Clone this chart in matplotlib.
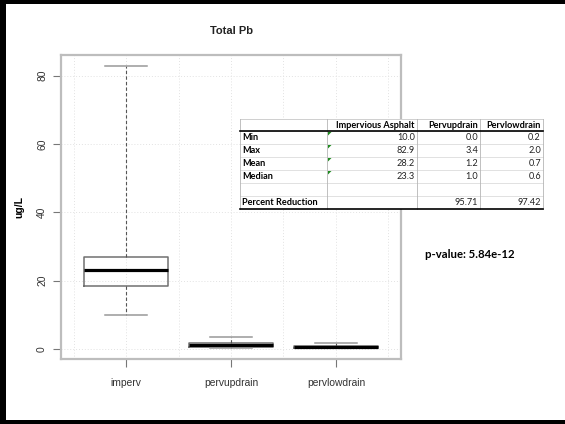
import matplotlib.pyplot as plt
from matplotlib.patches import Rectangle, Polygon

# box plot data
groups = ['imperv', 'pervupdrain', 'pervlowdrain']
whislo = [10.0, 0.4, 0.2]
q1 = [18.4, 0.6, 0.3]
med = [23.1, 1.1, 0.6]
q3 = [26.9, 1.9, 0.9]
whishi = [82.9, 3.4, 1.9]
yticks = [0, 20, 40, 60, 80]

# summary table
col_labels = ['', 'Impervious Asphalt', 'Pervupdrain', 'Pervlowdrain']
row_labels = ['Min', 'Max', 'Mean', 'Median', '', 'Percent Reduction']
imperv_vals = ['10.0', '82.9', '28.2', '23.3', '', '']
pervup_vals = ['0.0', '3.4', '1.2', '1.0', '', '95.71']
pervlow_vals = ['0.2', '2.0', '0.7', '0.6', '', '97.42']
p_text = 'p-value: 5.84e-12'

W, H = 565, 424
fig = plt.figure(figsize=(W / 100, H / 100), dpi=100)
fig.patch.set_facecolor('white')

ax = fig.add_axes([61 / W, 1 - 359 / H, (401 - 61) / W, (359 - 55) / H])
stats = []
for i, g in enumerate(groups):
    stats.append(dict(label=g, whislo=whislo[i], q1=q1[i], med=med[i],
                      q3=q3[i], whishi=whishi[i], fliers=[]))
ax.bxp(stats, positions=[1, 2, 3], widths=0.8, showfliers=False,
       boxprops=dict(color='#707070', linewidth=1.1),
       medianprops=dict(color='black', linewidth=2.3),
       whiskerprops=dict(color='#555555', linewidth=0.8, linestyle=(0, (3, 2))),
       capprops=dict(color='#999999', linewidth=1.1),
       capwidths=0.4)

ax.set_xlim(0.38, 3.62)
ax.set_ylim(-2.9, 86)
ax.set_yticks(yticks)
ax.set_yticklabels([str(v) for v in yticks], rotation=90, va='center')
ax.set_xticks([1, 2, 3])
ax.set_xticklabels(groups)
for x in [0.5, 1, 1.5, 2, 2.5, 3, 3.5]:
    ax.axvline(x, color='#e2e2e2', linewidth=0.7, linestyle=(0, (1, 2)), zorder=0)
for y in yticks:
    ax.axhline(y, color='#e2e2e2', linewidth=0.7, linestyle=(0, (1, 2)), zorder=0)
for s in ax.spines.values():
    s.set_color('#bdbdbd')
    s.set_linewidth(1.6)
ax.tick_params(colors='#777777', labelcolor='#333333', labelsize=7.4,
               length=6, width=0.8)
ax.tick_params(axis='x', pad=8)
ax.tick_params(axis='y', pad=4)
for t in ax.get_xticklabels() + ax.get_yticklabels():
    t.set_family('Liberation Sans')
ax.set_ylabel('ug/L', fontsize=7.5, fontweight='bold', family='Liberation Sans',
              labelpad=9)
fig.text(231 / W, 1 - 31 / H, 'Total Pb', ha='center', va='center',
         fontsize=8, fontweight='bold', family='Liberation Sans', color='#222222')

# overlay in pixel coordinates for table, p-value and border
ov = fig.add_axes([0, 0, 1, 1], zorder=5)
ov.set_xlim(0, W)
ov.set_ylim(H, 0)
ov.axis('off')

cols = [240, 327, 417, 480, 543]
rows = [119, 131, 144, 157, 170, 183, 196, 209]
ov.add_patch(Rectangle((cols[0], rows[0]), cols[-1] - cols[0], rows[-1] - rows[0],
                       facecolor='white', edgecolor='none'))
for y in rows[1:-1]:
    ov.plot([cols[0], cols[-1]], [y, y], color='#dcdcdc', lw=0.6)
ov.plot([cols[0], cols[-1]], [rows[0], rows[0]], color='#c8c8c8', lw=0.6)
for x in cols:
    ov.plot([x, x], [rows[0], rows[-1]], color='#b5b5b5', lw=0.6)
ov.plot([cols[0], cols[-1]], [rows[1], rows[1]], color='black', lw=1.2)
ov.plot([cols[0], cols[-1]], [rows[-1], rows[-1]], color='black', lw=1.2)

tf = dict(family='Lato', fontsize=6.6, va='center')
for j, lab in enumerate(col_labels[1:]):
    ov.text(cols[j + 2] - 2, (rows[0] + rows[1]) / 2, lab, ha='right',
            fontweight='bold', color='black', **tf)
for i, lab in enumerate(row_labels):
    yc = (rows[i + 1] + rows[i + 2]) / 2
    ov.text(cols[0] + 2, yc, lab, ha='left', fontweight='bold', color='black', **tf)
    for j, vals in enumerate([imperv_vals, pervup_vals, pervlow_vals]):
        ov.text(cols[j + 2] - 2, yc, vals[i], ha='right', color='#222222', **tf)
    if imperv_vals[i]:
        x0, y0 = cols[1] + 1, rows[i + 1] + 1
        ov.add_patch(Polygon([[x0, y0], [x0 + 3.5, y0], [x0, y0 + 3.5]],
                             closed=True, facecolor='#1f8a1f', edgecolor='none'))

ov.text(425, 255, p_text, ha='left', va='center', family='Lato', fontsize=8.2,
        fontweight='bold', color='black')

# black slide border (left, top, bottom)
ov.add_patch(Rectangle((0, 0), 6, H, facecolor='black', edgecolor='none'))
ov.add_patch(Rectangle((0, 0), W, 3.5, facecolor='black', edgecolor='none'))
ov.add_patch(Rectangle((0, 420), W, 4, facecolor='black', edgecolor='none'))

fig.savefig('out.png', dpi=100)
